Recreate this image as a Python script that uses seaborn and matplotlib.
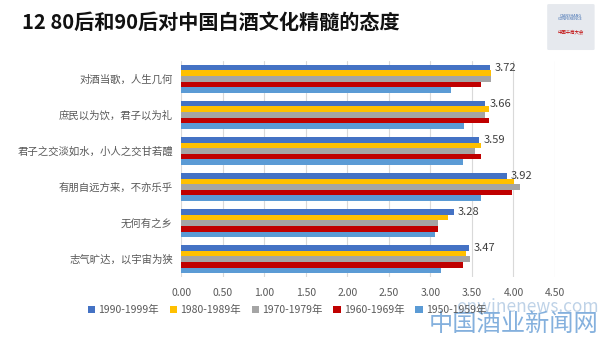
import matplotlib
matplotlib.use("Agg")
import matplotlib.pyplot as plt
from matplotlib.patches import Patch, FancyBboxPatch
import seaborn as sns
import pandas as pd

categories = ['对酒当歌，人生几何', '庶民以为饮，君子以为礼', '君子之交淡如水，小人之交甘若醴',
              '有朋自远方来，不亦乐乎', '无何有之乡', '志气旷达，以宇宙为狭']
series_names = ['1990-1999年', '1980-1989年', '1970-1979年', '1960-1969年', '1950-1959年']
s1990 = [3.72, 3.66, 3.59, 3.92, 3.28, 3.47]
s1980 = [3.73, 3.70, 3.61, 4.01, 3.21, 3.43]
s1970 = [3.73, 3.66, 3.54, 4.08, 3.09, 3.48]
s1960 = [3.61, 3.71, 3.61, 3.98, 3.09, 3.39]
s1950 = [3.25, 3.41, 3.39, 3.61, 3.05, 3.13]
colors = ['#4472C4', '#FFC000', '#A5A5A5', '#C00000', '#5B9BD5']
xticks = [0, 0.5, 1.0, 1.5, 2.0, 2.5, 3.0, 3.5, 4.0, 4.5]

rows = []
for name, vals in zip(series_names, [s1990, s1980, s1970, s1960, s1950]):
    for c, v in zip(categories, vals):
        rows.append({'cat': c, 'series': name, 'value': v})
df = pd.DataFrame(rows)

sns.set_theme(style='white')
plt.rcParams['font.family'] = ['Noto Sans CJK SC', 'DejaVu Sans']

fig = plt.figure(figsize=(6, 3.38), dpi=100)
ax = fig.add_axes([0.302, 0.180, 0.623, 0.640])
sns.barplot(data=df, y='cat', x='value', hue='series', order=categories,
            hue_order=series_names, palette=colors, orient='h', width=0.78,
            saturation=1, ax=ax, legend=False, errorbar=None,
            linewidth=0, edgecolor='none')

ax.set_xlim(0, 4.5)
ax.set_xticks(xticks)
ax.set_xticklabels([f'{t:.2f}' for t in xticks], fontsize=7.5, color='#595959')
ax.tick_params(axis='y', labelsize=7.5, labelcolor='#595959', length=0, pad=6)
ax.tick_params(axis='x', length=0, pad=8)
ax.set_xlabel('')
ax.set_ylabel('')
ax.grid(axis='x', color='#D9D9D9', linewidth=0.8)
ax.set_axisbelow(True)
for sp in ax.spines.values():
    sp.set_visible(False)

ax.bar_label(ax.containers[0], fmt='%.2f', padding=3, fontsize=8, color='#404040')

handles = [Patch(facecolor=c, edgecolor='none') for c in colors]
fig.legend(handles, series_names, loc='center', bbox_to_anchor=(0.478, 0.083), ncol=5,
           frameon=False, fontsize=7.5, handlelength=0.7, handleheight=0.7,
           handletextpad=0.3, columnspacing=1.05, labelcolor='#595959')

fig.text(0.037, 0.935, '12 80后和90后对中国白酒文化精髓的态度', fontsize=14.5,
         fontweight='heavy', color='#111111', va='center', ha='left')

# logo
logo = FancyBboxPatch((0.915, 0.855), 0.073, 0.13, boxstyle='round,pad=0.003',
                      transform=fig.transFigure, facecolor='#E6E9EE', edgecolor='none')
fig.patches.append(logo)
fig.text(0.951, 0.95, 'QIANSHANG\nCONFERENCE', fontsize=2.8, color='#3B6BB0',
         ha='center', va='center', linespacing=1.0)
fig.text(0.951, 0.905, '中国千商大会', fontsize=3.2, color='#C00000', ha='center', va='center')

# watermark
fig.text(0.998, 0.092, 'onwinenews.com', fontsize=12.5, color='#A9C4E0', ha='right',
         va='center', alpha=0.75)
fig.text(0.998, 0.04, '中国酒业新闻网', fontsize=17.5, color='#6FA3D8', ha='right',
         va='center', alpha=0.85)

fig.savefig('out.png', dpi=100)
